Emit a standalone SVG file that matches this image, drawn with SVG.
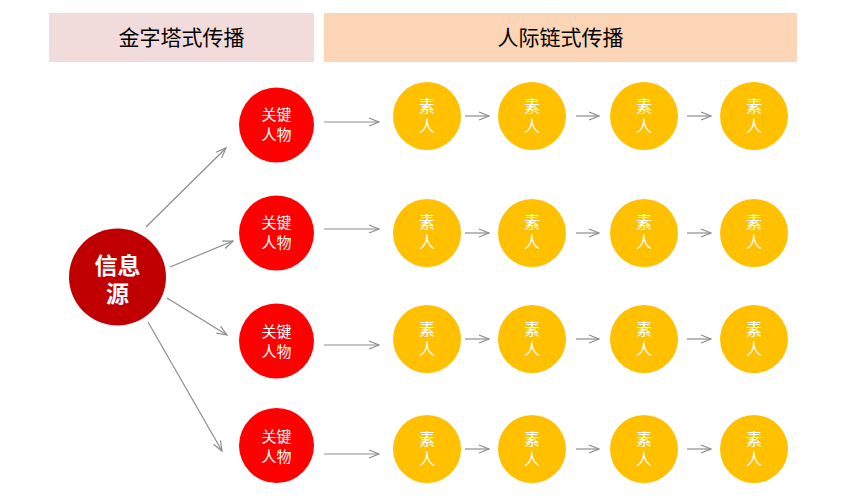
<svg xmlns="http://www.w3.org/2000/svg" width="853" height="501" viewBox="0 0 853 501">
<style>
.hd{font-family:"Noto Sans CJK SC","Liberation Sans",sans-serif;font-size:21px;fill:#000;text-anchor:middle}
.src{fill:#C00000}
.key{fill:#FF0000}
.ppl{fill:#FFC000}
.t{font-family:"Noto Sans CJK SC","Liberation Sans",sans-serif;fill:#fff;text-anchor:middle}
.ts{font-size:23px;font-weight:bold}
.tk{font-size:15px}
.ty{font-size:16px}
.c{stroke:#8C8C8C;stroke-width:1.2;fill:none;marker-end:url(#ah)}
</style>
<defs>
<marker id="ah" viewBox="0 0 12 10" refX="11" refY="5" markerWidth="12" markerHeight="10" markerUnits="userSpaceOnUse" orient="auto">
<path d="M1,1 L11,5 L1,9" fill="none" stroke="#8C8C8C" stroke-width="1.2"/>
</marker>
</defs>
<rect width="853" height="501" fill="#fff"/>
<g id="header-left"><rect x="49" y="13" width="265" height="49" fill="#F2DCDB"/><text class="hd" x="181.5" y="45">金字塔式传播</text></g>
<g id="header-right"><rect x="324" y="13" width="473" height="49" fill="#FBD5B5"/><text class="hd" x="560.5" y="45">人际链式传播</text></g>
<g id="connectors">
<line class="c" x1="146" y1="227" x2="226" y2="148"/>
<line class="c" x1="170" y1="267" x2="233" y2="241"/>
<line class="c" x1="167" y1="298" x2="227" y2="335"/>
<line class="c" x1="148" y1="322" x2="222" y2="451"/>
<line class="c" x1="324" y1="122" x2="379" y2="122"/>
<line class="c" x1="324" y1="229" x2="379" y2="229"/>
<line class="c" x1="324" y1="345" x2="379" y2="345"/>
<line class="c" x1="324" y1="454" x2="379" y2="454"/>
<line class="c" x1="465" y1="116" x2="489" y2="116"/>
<line class="c" x1="576" y1="116" x2="599" y2="116"/>
<line class="c" x1="687" y1="116" x2="711" y2="116"/>
<line class="c" x1="465" y1="233" x2="489" y2="233"/>
<line class="c" x1="576" y1="233" x2="599" y2="233"/>
<line class="c" x1="687" y1="233" x2="711" y2="233"/>
<line class="c" x1="465" y1="339" x2="489" y2="339"/>
<line class="c" x1="576" y1="339" x2="599" y2="339"/>
<line class="c" x1="687" y1="339" x2="711" y2="339"/>
<line class="c" x1="465" y1="449" x2="489" y2="449"/>
<line class="c" x1="576" y1="449" x2="599" y2="449"/>
<line class="c" x1="687" y1="449" x2="711" y2="449"/>
</g>
<g id="source"><circle class="src" cx="117.5" cy="277" r="48.5"/><text class="t ts"><tspan x="117.5" y="274">信息</tspan><tspan x="117.5" y="302">源</tspan></text></g>
<g id="key1"><circle class="key" cx="276.5" cy="125" r="37.5"/><text class="t tk"><tspan x="276.5" y="120">关键</tspan><tspan x="276.5" y="140">人物</tspan></text></g>
<g id="key2"><circle class="key" cx="276.5" cy="233" r="37.5"/><text class="t tk"><tspan x="276.5" y="228">关键</tspan><tspan x="276.5" y="248">人物</tspan></text></g>
<g id="key3"><circle class="key" cx="276.5" cy="341" r="37.5"/><text class="t tk"><tspan x="276.5" y="337">关键</tspan><tspan x="276.5" y="357">人物</tspan></text></g>
<g id="key4"><circle class="key" cx="276.5" cy="445.5" r="37.5"/><text class="t tk"><tspan x="276.5" y="442">关键</tspan><tspan x="276.5" y="462">人物</tspan></text></g>
<g id="p11"><circle class="ppl" cx="427" cy="116" r="34"/><text class="t ty"><tspan x="427" y="112">素</tspan><tspan x="427" y="132">人</tspan></text></g>
<g id="p12"><circle class="ppl" cx="532" cy="116" r="34"/><text class="t ty"><tspan x="532" y="112">素</tspan><tspan x="532" y="132">人</tspan></text></g>
<g id="p13"><circle class="ppl" cx="644" cy="116" r="34"/><text class="t ty"><tspan x="644" y="112">素</tspan><tspan x="644" y="132">人</tspan></text></g>
<g id="p14"><circle class="ppl" cx="754" cy="116" r="34"/><text class="t ty"><tspan x="754" y="112">素</tspan><tspan x="754" y="132">人</tspan></text></g>
<g id="p21"><circle class="ppl" cx="427" cy="233" r="34"/><text class="t ty"><tspan x="427" y="228">素</tspan><tspan x="427" y="248">人</tspan></text></g>
<g id="p22"><circle class="ppl" cx="532" cy="233" r="34"/><text class="t ty"><tspan x="532" y="228">素</tspan><tspan x="532" y="248">人</tspan></text></g>
<g id="p23"><circle class="ppl" cx="644" cy="233" r="34"/><text class="t ty"><tspan x="644" y="228">素</tspan><tspan x="644" y="248">人</tspan></text></g>
<g id="p24"><circle class="ppl" cx="754" cy="233" r="34"/><text class="t ty"><tspan x="754" y="228">素</tspan><tspan x="754" y="248">人</tspan></text></g>
<g id="p31"><circle class="ppl" cx="427" cy="339" r="34"/><text class="t ty"><tspan x="427" y="335">素</tspan><tspan x="427" y="355">人</tspan></text></g>
<g id="p32"><circle class="ppl" cx="532" cy="339" r="34"/><text class="t ty"><tspan x="532" y="335">素</tspan><tspan x="532" y="355">人</tspan></text></g>
<g id="p33"><circle class="ppl" cx="644" cy="339" r="34"/><text class="t ty"><tspan x="644" y="335">素</tspan><tspan x="644" y="355">人</tspan></text></g>
<g id="p34"><circle class="ppl" cx="754" cy="339" r="34"/><text class="t ty"><tspan x="754" y="335">素</tspan><tspan x="754" y="355">人</tspan></text></g>
<g id="p41"><circle class="ppl" cx="427" cy="449" r="34"/><text class="t ty"><tspan x="427" y="445">素</tspan><tspan x="427" y="465">人</tspan></text></g>
<g id="p42"><circle class="ppl" cx="532" cy="449" r="34"/><text class="t ty"><tspan x="532" y="445">素</tspan><tspan x="532" y="465">人</tspan></text></g>
<g id="p43"><circle class="ppl" cx="644" cy="449" r="34"/><text class="t ty"><tspan x="644" y="445">素</tspan><tspan x="644" y="465">人</tspan></text></g>
<g id="p44"><circle class="ppl" cx="754" cy="449" r="34"/><text class="t ty"><tspan x="754" y="445">素</tspan><tspan x="754" y="465">人</tspan></text></g>
</svg>
